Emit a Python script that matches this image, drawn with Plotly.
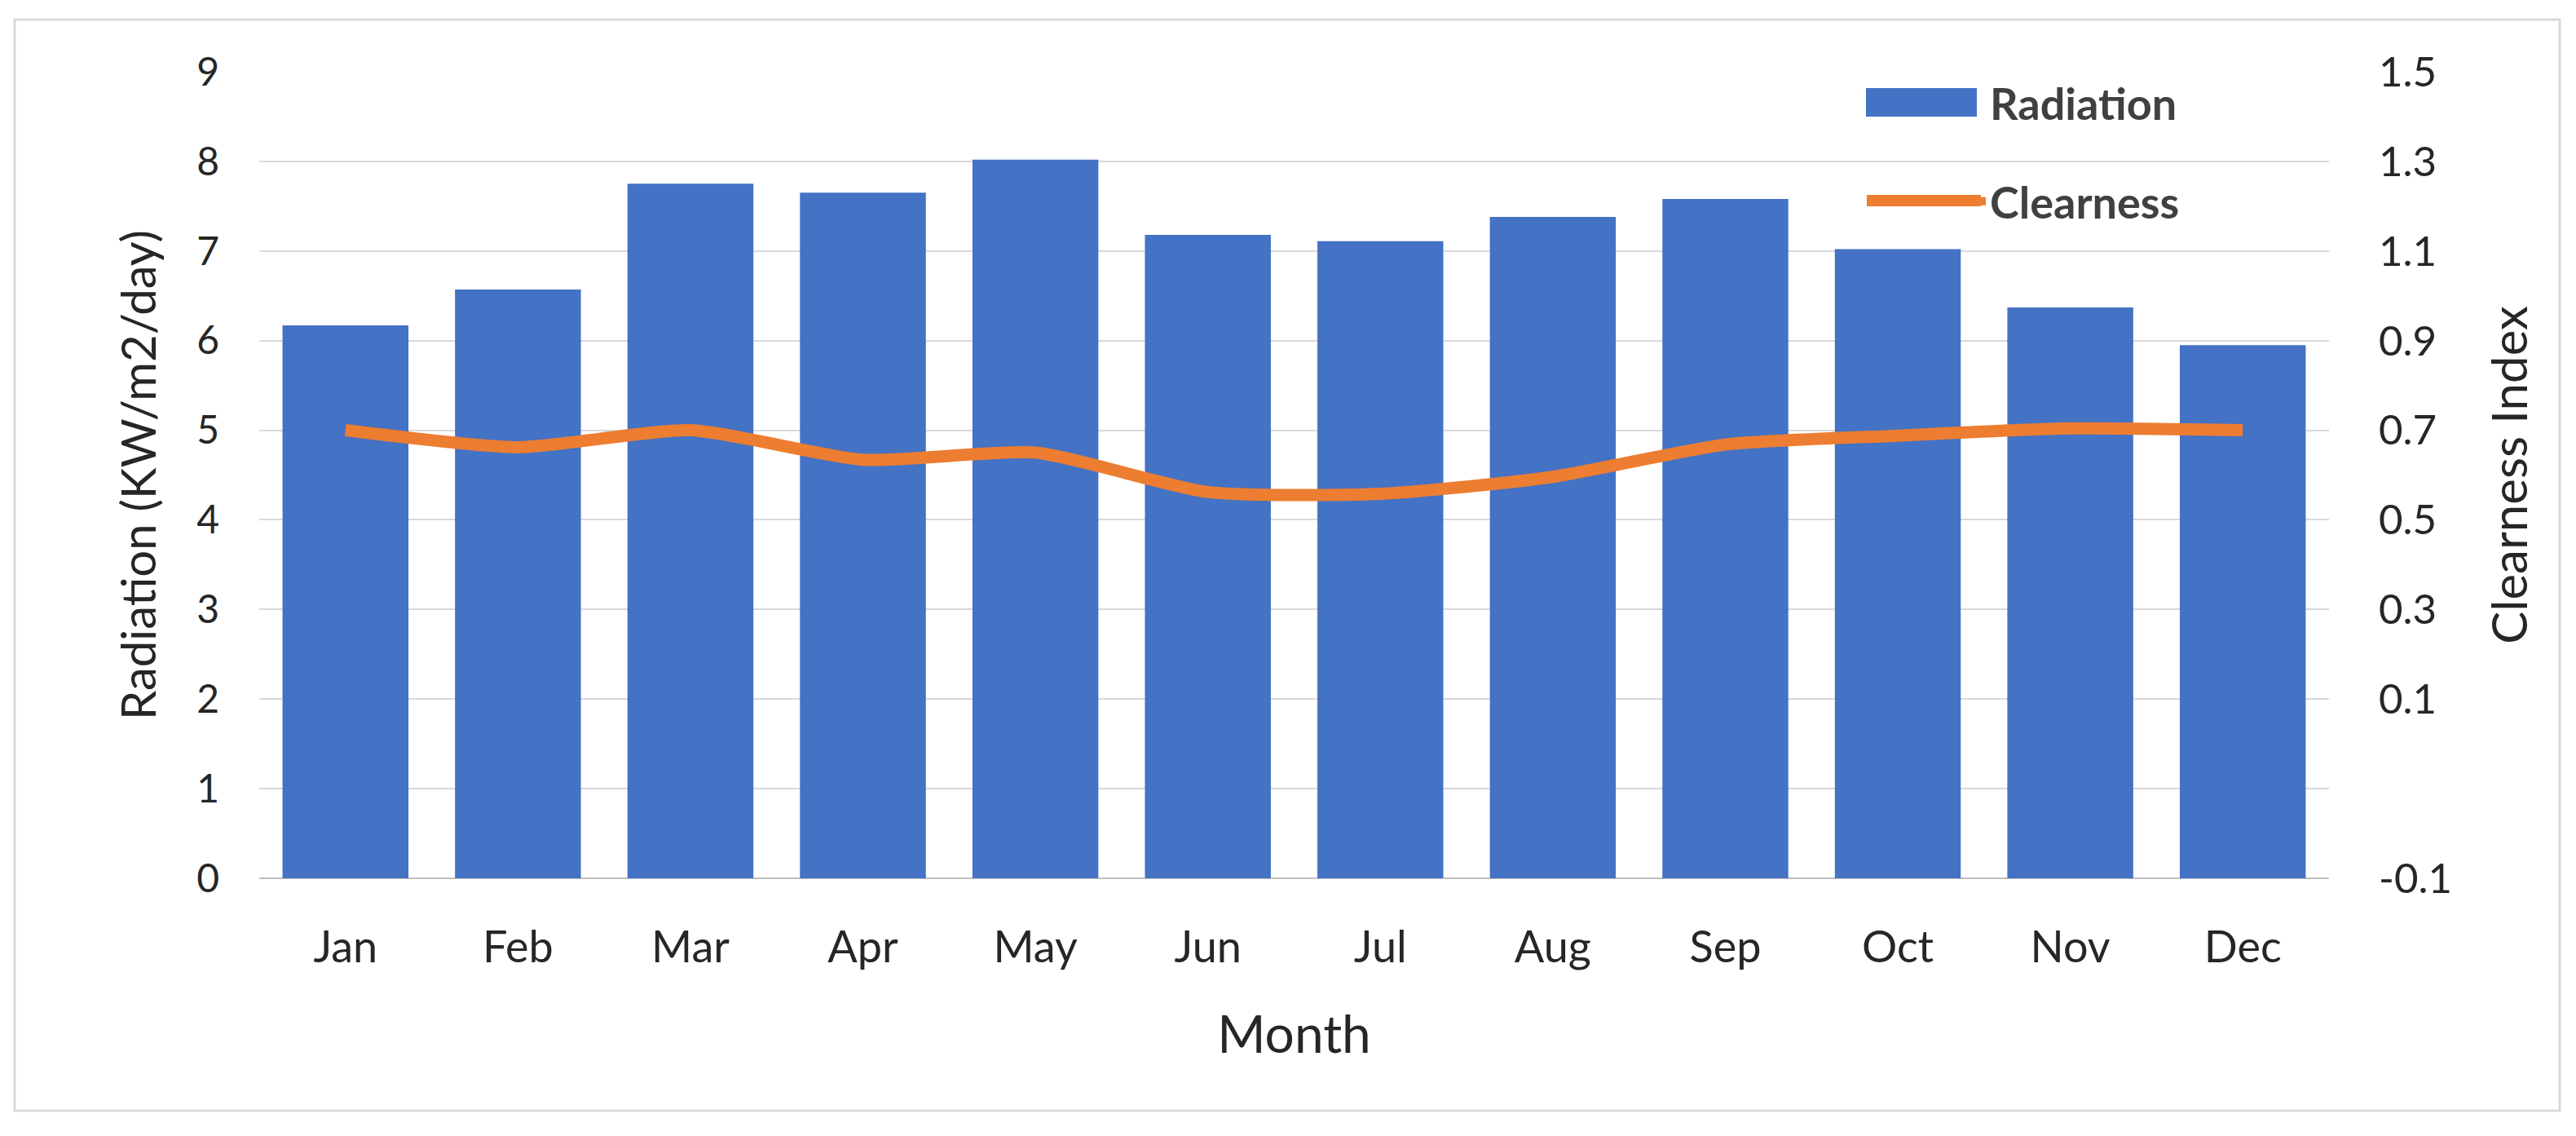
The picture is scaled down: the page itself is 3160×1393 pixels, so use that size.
import plotly.graph_objects as go

months = ["Jan", "Feb", "Mar", "Apr", "May", "Jun", "Jul", "Aug", "Sep", "Oct", "Nov", "Dec"]
radiation = [6.17, 6.57, 7.75, 7.65, 8.02, 7.18, 7.11, 7.38, 7.58, 7.02, 6.37, 5.95]
clearness = [0.70, 0.662, 0.70, 0.634, 0.65, 0.562, 0.558, 0.596, 0.668, 0.688, 0.704, 0.70]

left_ticks = [0, 1, 2, 3, 4, 5, 6, 7, 8, 9]
right_tickvals = [1.5, 1.3, 1.1, 0.9, 0.7, 0.5, 0.3, 0.1, -0.3]
right_ticktext = ["1.5", "1.3", "1.1", "0.9", "0.7", "0.5", "0.3", "0.1", "-0.1"]

FONT = "Lato"
TXT = "#262626"
BLUE = "#4472C4"
ORANGE = "#ED7D31"

fig = go.Figure()
fig.add_trace(go.Bar(
    x=months, y=radiation, name="Radiation",
    marker=dict(color=BLUE, line=dict(width=0)),
    legendgroup="a",
))
fig.add_trace(go.Scatter(
    x=months, y=clearness, name="Clearness", yaxis="y2",
    mode="lines", line=dict(color=ORANGE, width=15, shape="spline", smoothing=0.6),
    legendgroup="b",
))

W, H = 3160, 1393
L, R, T, B = 318, 303, 88, 316
pw = W - L - R
ph = H - T - B

def px_x(p):
    return (p - L) / pw

def px_y(p):
    return (H - B - p) / ph

# enlarged legend keys (drawn behind the native legend symbols, same colours)
key_shapes = [
    dict(type="rect", xref="paper", yref="paper",
         x0=px_x(2289), x1=px_x(2425), y0=px_y(143), y1=px_y(108),
         fillcolor=BLUE, line=dict(width=0), layer="above"),
    dict(type="line", xref="paper", yref="paper",
         x0=px_x(2290), x1=px_x(2430), y0=px_y(246), y1=px_y(246),
         line=dict(color=ORANGE, width=14), layer="above"),
]

border = dict(
    type="rect", xref="paper", yref="paper",
    x0=px_x(18), x1=px_x(3140), y0=px_y(1362), y1=px_y(24),
    line=dict(color="#d9d9d9", width=3), fillcolor="rgba(0,0,0,0)", layer="below",
)

fig.update_layout(
    width=W, height=H,
    margin=dict(l=L, r=R, t=T, b=B),
    paper_bgcolor="white", plot_bgcolor="white",
    bargap=0.27,
    font=dict(family=FONT, color=TXT),
    xaxis=dict(
        tickfont=dict(size=54, color=TXT),
        ticklabelstandoff=48,
        showgrid=False, showline=False, zeroline=False,
        title=dict(text="Month", font=dict(size=64, color=TXT), standoff=55),
    ),
    yaxis=dict(
        range=[0, 9], tickvals=left_ticks,
        tickfont=dict(size=48, color=TXT),
        ticklabelstandoff=48,
        showgrid=True, gridcolor="#d9d9d9", gridwidth=2,
        zeroline=True, zerolinecolor="#bfbfbf", zerolinewidth=2,
        showline=False,
        title=dict(text="Radiation (KW/m2/day)", font=dict(size=58, color=TXT), standoff=30),
    ),
    yaxis2=dict(
        range=[-0.3, 1.5], overlaying="y", side="right",
        tickvals=right_tickvals, ticktext=right_ticktext,
        tickfont=dict(size=51, color=TXT),
        ticklabelstandoff=60,
        showgrid=False, zeroline=False, showline=False,
        title=dict(text="Clearness Index", font=dict(size=60, color=TXT), standoff=50),
    ),
    showlegend=True,
    legend=dict(
        x=px_x(2296), y=px_y(84), xanchor="left", yanchor="top",
        font=dict(family=FONT, size=54, color="#404040", weight="bold"),
        bgcolor="rgba(0,0,0,0)",
        traceorder="grouped", tracegroupgap=48,
        itemwidth=135,
    ),
    shapes=[border] + key_shapes,
)

fig.write_html("out.html", config={"displayModeBar": False},
               post_script="document.body.style.margin='0';")
